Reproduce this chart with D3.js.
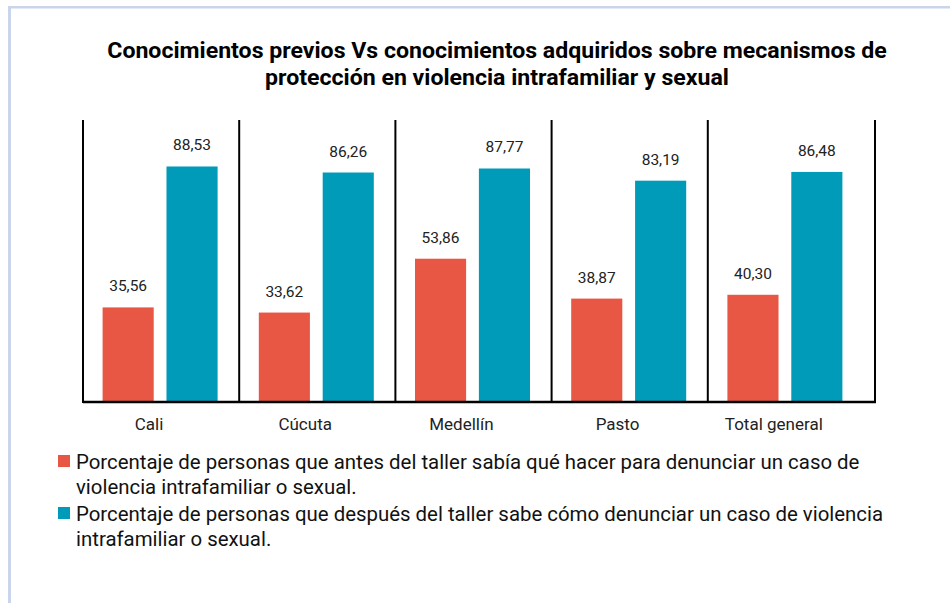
<!DOCTYPE html>
<html>
<head>
<meta charset="utf-8">
<script src="https://cdn.jsdelivr.net/npm/d3@7"></script>
<style>
  body { margin: 0; background: #fff; }
  svg { display: block; font-family: Roboto, "Liberation Sans", sans-serif; }
</style>
</head>
<body>
<svg id="chart" width="950" height="603"></svg>
<script>
// chart data
const categories = ['Cali', 'Cúcuta', 'Medellín', 'Pasto', 'Total general'];
const seriesNames = ['antes', 'despues'];
const antes = [35.56, 33.62, 53.86, 38.87, 40.30];
const despues = [88.53, 86.26, 87.77, 83.19, 86.48];
const titleLines = [
  'Conocimientos previos Vs conocimientos adquiridos sobre mecanismos de',
  'protección en violencia intrafamiliar y sexual'
];
const legendItems = [
  ['Porcentaje de personas que antes del taller sabía qué hacer para denunciar un caso de',
   'violencia intrafamiliar o sexual.'],
  ['Porcentaje de personas que después del taller sabe cómo denunciar un caso de violencia',
   'intrafamiliar o sexual.']
];
const colors = { antes: '#e85744', despues: '#009bb8' };

const fmt = v => v.toFixed(2).replace('.', ',');

const svg = d3.select('#chart');
const W = 950;

// frame (light blue border top + left)
svg.append('rect').attr('x', 8).attr('y', 6).attr('width', W - 8).attr('height', 2.5).attr('fill', '#c9d5ea');
svg.append('rect').attr('x', 8).attr('y', 6).attr('width', 3).attr('height', 603).attr('fill', '#c9d5ea');

// title
const titleG = svg.append('g');
titleLines.forEach((t, i) => {
  titleG.append('text')
    .attr('x', 0)
    .attr('y', 58 + i * 27)
    .attr('text-anchor', 'middle')
    .attr('font-size', 22)
    .attr('font-weight', 'bold')
    .attr('fill', '#000')
    .text(t);
});
const tw = titleG.select('text').node().getComputedTextLength();
titleG.attr('transform', `translate(497,0) scale(${780 / tw},1)`);

// plot area
const plot = { left: 83, right: 875, top: 120, bottom: 402 };

const x = d3.scaleBand()
  .domain(categories)
  .range([plot.left, plot.left + 781]);

const xInner = d3.scaleBand()
  .domain(seriesNames)
  .range([x.bandwidth() / 2 - 58.5, x.bandwidth() / 2 + 56.5])
  .paddingInner(0.2);

const y = d3.scaleLinear()
  .domain([0, 106])
  .range([plot.bottom, plot.top]);

const rows = categories.map((c, i) => ({ cat: c, antes: antes[i], despues: despues[i] }));

const groups = svg.selectAll('.grp')
  .data(rows)
  .enter().append('g')
  .attr('class', 'grp')
  .attr('transform', d => `translate(${x(d.cat)},0)`);

groups.selectAll('rect')
  .data(d => seriesNames.map(s => ({ key: s, value: d[s] })))
  .enter().append('rect')
  .attr('x', d => xInner(d.key))
  .attr('y', d => y(d.value))
  .attr('width', xInner.bandwidth())
  .attr('height', d => y(0) - y(d.value))
  .attr('fill', d => colors[d.key]);

groups.selectAll('.val')
  .data(d => seriesNames.map(s => ({ key: s, value: d[s] })))
  .enter().append('text')
  .attr('class', 'val')
  .attr('x', d => xInner(d.key) + xInner.bandwidth() / 2)
  .attr('y', d => y(d.value) - 16)
  .attr('text-anchor', 'middle')
  .attr('font-size', 15.5)
  .attr('fill', '#222')
  .text(d => fmt(d.value));

// separators
const sepX = categories.map(c => x(c)).concat([plot.right]);
svg.selectAll('.sep')
  .data(sepX)
  .enter().append('line')
  .attr('class', 'sep')
  .attr('x1', d => d).attr('x2', d => d)
  .attr('y1', plot.top).attr('y2', plot.bottom + 1)
  .attr('stroke', '#000')
  .attr('stroke-width', 2);

// baseline
svg.append('line')
  .attr('x1', plot.left).attr('x2', plot.right + 1)
  .attr('y1', plot.bottom).attr('y2', plot.bottom)
  .attr('stroke', '#000')
  .attr('stroke-width', 2.5);

// category labels
svg.selectAll('.cat')
  .data(categories)
  .enter().append('text')
  .attr('class', 'cat')
  .attr('x', d => x(d) + 66)
  .attr('y', 430)
  .attr('text-anchor', 'middle')
  .attr('font-size', 17)
  .attr('fill', '#222')
  .text(d => d);

// legend
const legend = svg.append('g').attr('transform', 'translate(58,0)');
legendItems.forEach((lines, i) => {
  const baseY = 469 + i * 52;
  legend.append('rect')
    .attr('x', 0)
    .attr('y', baseY - 14)
    .attr('width', 12)
    .attr('height', 12)
    .attr('fill', colors[seriesNames[i]]);
  lines.forEach((t, j) => {
    legend.append('text')
      .attr('class', 'leg')
      .attr('x', 18)
      .attr('y', baseY + j * 25)
      .attr('font-size', 20.5)
      .attr('fill', '#111')
      .text(t);
  });
});
const lw = legend.select('.leg').node().getComputedTextLength();
const lf = 784 / lw;
legend.selectAll('.leg')
  .attr('transform', `translate(18,0) scale(${lf},1) translate(-18,0)`);
</script>
</body>
</html>
